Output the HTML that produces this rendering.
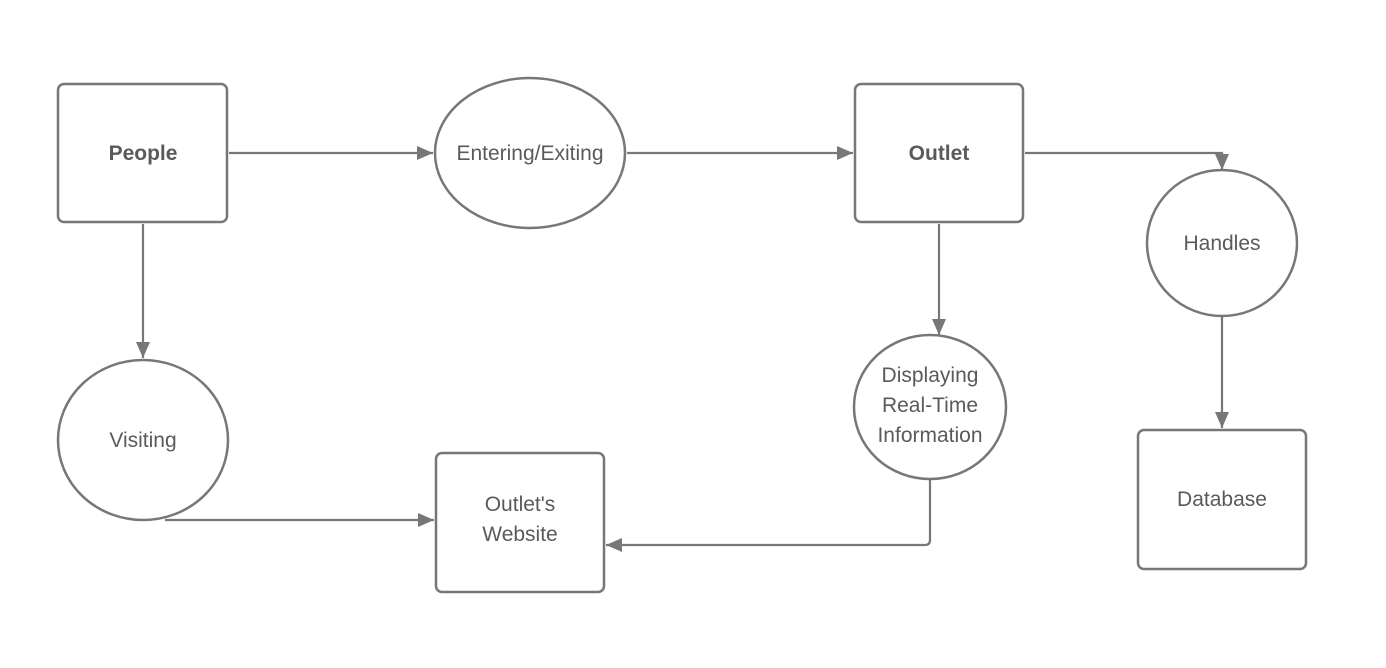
<!DOCTYPE html>
<html><head><style>
html,body{margin:0;padding:0;background:#fff;}
svg{display:block;}
text{font-family:"Liberation Sans",sans-serif;fill:#5a5a5a;font-size:21px;text-anchor:middle;}
</style></head><body>
<svg width="1386" height="668" viewBox="0 0 1386 668" xmlns="http://www.w3.org/2000/svg">
<defs><marker id="a" markerWidth="10" markerHeight="10" refX="9" refY="5" orient="auto" markerUnits="userSpaceOnUse"><path d="M0,0 L10,5 L0,10 Z" fill="#777" transform="scale(1.6) translate(-3.5,-1.9)"/></marker>
<marker id="b" viewBox="0 0 16 14" markerWidth="16" markerHeight="14" refX="16" refY="7" orient="auto" markerUnits="userSpaceOnUse"><path d="M0,0 L16,7 L0,14 Z" fill="#777"/></marker></defs>
<g fill="none" stroke="#777" stroke-width="2.5">
<rect x="58" y="84" width="169" height="138" rx="6"/>
<ellipse cx="530" cy="153" rx="95" ry="75"/>
<rect x="855" y="84" width="168" height="138" rx="6"/>
<ellipse cx="1222" cy="243" rx="75" ry="73"/>
<ellipse cx="143" cy="440" rx="85" ry="80"/>
<rect x="436" y="453" width="168" height="139" rx="6"/>
<ellipse cx="930" cy="407" rx="76" ry="72"/>
<rect x="1138" y="430" width="168" height="139" rx="6"/>
<g stroke-width="2.2">
<path d="M229 153 H433" marker-end="url(#b)"/>
<path d="M627 153 H853" marker-end="url(#b)"/>
<path d="M1025 153 H1222 V170" marker-end="url(#b)"/>
<path d="M143 224 V358" marker-end="url(#b)"/>
<path d="M939 224 V335" marker-end="url(#b)"/>
<path d="M1222 316 V428" marker-end="url(#b)"/>
<path d="M165 520 H434" marker-end="url(#b)"/>
<path d="M930 479 V540 Q930 545 925 545 H606" marker-end="url(#b)"/>
</g></g>
<text x="143" y="160" font-weight="bold">People</text>
<text x="530" y="160">Entering/Exiting</text>
<text x="939" y="160" font-weight="bold">Outlet</text>
<text x="1222" y="250">Handles</text>
<text x="143" y="447">Visiting</text>
<text x="520" y="511">Outlet's</text>
<text x="520" y="541">Website</text>
<text x="930" y="382">Displaying</text>
<text x="930" y="412">Real-Time</text>
<text x="930" y="442">Information</text>
<text x="1222" y="506">Database</text>
</svg>
</body></html>
